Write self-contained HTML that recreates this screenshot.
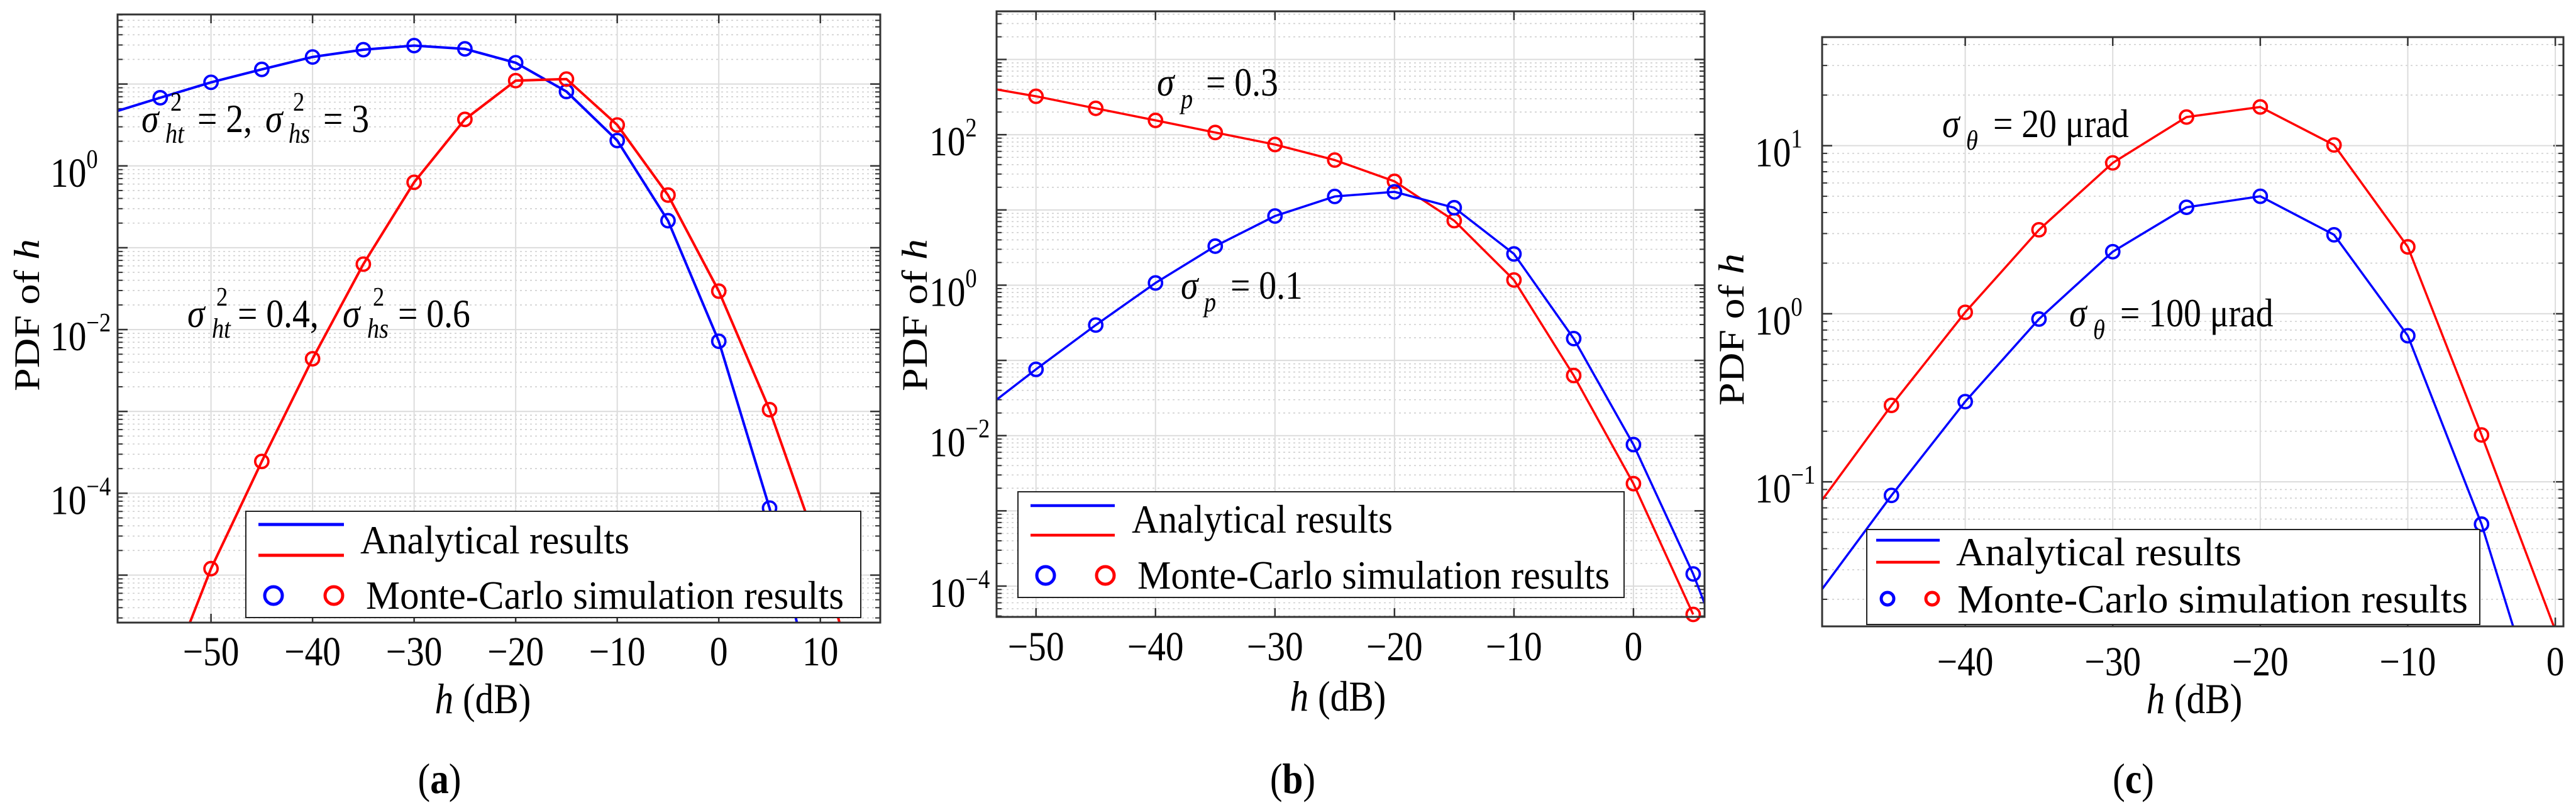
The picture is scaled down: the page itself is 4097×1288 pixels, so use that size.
<!DOCTYPE html>
<html><head><meta charset="utf-8">
<style>
html,body{margin:0;padding:0;background:#fff;}
svg{display:block;font-family:"Liberation Serif","DejaVu Serif",serif;}
</style></head>
<body>
<svg id="fig" width="4097" height="1288" viewBox="0 0 4097 1288" xmlns="http://www.w3.org/2000/svg"></svg>
<script>
// ---------- Panel (a) data ----------
const aMarkX = [-55,-50,-45,-40,-35,-30,-25,-20,-15,-10,-5,0,5];
const aBlueMark = [6.8,10.5,15.1,21.4,26.3,29.5,26.9,18.2,8.1,2.04,0.214,0.0072,6.6e-5];
const aBlueLineX = [-59.2,-55,-50,-45,-40,-35,-30,-25,-20,-15,-10,-5,0,5,7.7];
const aBlueLine = [4.7,6.8,10.5,15.1,21.4,26.3,29.5,26.9,18.2,8.1,2.04,0.214,0.0072,6.6e-5,2.6e-6];
const aRedMarkX = [-50,-45,-40,-35,-30,-25,-20,-15,-10,-5,0,5,10];
const aRedMark = [1.2e-5,2.45e-4,4.4e-3,0.063,0.63,3.7,11,11.5,3.16,0.44,0.0295,1.05e-3,1.8e-5];
const aRedLineX = [-52.1,-50,-45,-40,-35,-30,-25,-20,-15,-10,-5,0,5,10,11.9];
const aRedLine = [2.6e-6,1.2e-5,2.45e-4,4.4e-3,0.063,0.63,3.7,11,11.5,3.16,0.44,0.0295,1.05e-3,1.8e-5,2.6e-6];
const aXTicks = [-50,-40,-30,-20,-10,0,10];
const aYTickExp = [0,-2,-4];

// ---------- Panel (b) data ----------
const bMarkX = [-50,-45,-40,-35,-30,-25,-20,-15,-10,-5,0,5];
const bRedMark = [324,224,155,107,74,46,24,7.2,1.17,0.063,2.3e-3,4.2e-5];
const bBlueMark = [0.076,0.295,1.07,3.3,8.3,15.1,17.4,10.7,2.6,0.195,7.6e-3,1.45e-4];
const bRedLineX = [-53.3,-50,-45,-40,-35,-30,-25,-20,-15,-10,-5,0,5];
const bRedLine = [400,324,224,155,107,74,46,24,7.2,1.17,0.063,2.3e-3,4.2e-5];
const bBlueLineX = [-53.3,-50,-45,-40,-35,-30,-25,-20,-15,-10,-5,0,5,5.95];
const bBlueLine = [0.030,0.076,0.295,1.07,3.3,8.3,15.1,17.4,10.7,2.6,0.195,7.6e-3,1.45e-4,5.9e-5];
const bXTicks = [-50,-40,-30,-20,-10,0];
const bYTickExp = [2,0,-2,-4];

// ---------- Panel (c) data ----------
const cMarkX = [-45,-40,-35,-30,-25,-20,-15,-10,-5];
const cRedMark = [0.285,1.02,3.16,7.9,14.8,17,10.1,2.5,0.19];
const cBlueMark = [0.083,0.30,0.93,2.34,4.3,5.0,2.95,0.74,0.056];
const cRedLineX = [-49.7,-45,-40,-35,-30,-25,-20,-15,-10,-5,-0.1];
const cRedLine = [0.078,0.285,1.02,3.16,7.9,14.8,17,10.1,2.5,0.19,0.0138];
const cBlueLineX = [-49.7,-45,-40,-35,-30,-25,-20,-15,-10,-5,-2.86];
const cBlueLine = [0.023,0.083,0.30,0.93,2.34,4.3,5.0,2.95,0.74,0.056,0.0138];
const cXTicks = [-40,-30,-20,-10,0];
const cYTickExp = [1,0,-1];

const NS = "http://www.w3.org/2000/svg";
const svg = document.getElementById('fig');
const SX = 0.87;
function mk(tag, attrs, parent, text){
  const e = document.createElementNS(NS, tag);
  for (const k in attrs) e.setAttribute(k, attrs[k]);
  if (text !== undefined) e.textContent = text;
  (parent||svg).appendChild(e);
  return e;
}
function squash(t){
  const x = parseFloat(t.getAttribute('x'));
  t.setAttribute('transform','translate('+x+' 0) scale('+SX+' 1) translate('+(-x)+' 0)');
}

function panel(cfg){
  const g = mk('g', {});
  
  
  const L=cfg.L,R=cfg.R,T=cfg.T,B=cfg.B;
  const xs = v => L + (v - cfg.x0)/(cfg.x1 - cfg.x0)*(R-L);
  const ys = v => T + (cfg.ly1 - Math.log10(v))/(cfg.ly1 - cfg.ly0)*(B-T);
  const grid = mk('g', {}, g);
  
  
  for (let d=Math.floor(cfg.ly0); d<=Math.ceil(cfg.ly1); d++){
    for (let m=1;m<=9;m++){
      const v = m*Math.pow(10,d);
      const lv = Math.log10(v);
      if (lv<cfg.ly0 || lv>cfg.ly1) continue;
      const y = ys(v);
      if (m===1){
        mk('line',{x1:L,x2:R,y1:y,y2:y,stroke:'#dcdcdc','stroke-width':2},grid);
        mk('line',{x1:L,x2:L+16,y1:y,y2:y,stroke:'#333','stroke-width':2.5},grid);
        mk('line',{x1:R-16,x2:R,y1:y,y2:y,stroke:'#333','stroke-width':2.5},grid);
      } else {
        mk('line',{x1:L,x2:R,y1:y,y2:y,stroke:'#cfcfcf','stroke-width':1.6,'stroke-dasharray':'3 5'},grid);
        mk('line',{x1:L,x2:L+8,y1:y,y2:y,stroke:'#333','stroke-width':2},grid);
        mk('line',{x1:R-8,x2:R,y1:y,y2:y,stroke:'#333','stroke-width':2},grid);
      }
    }
  }
  cfg.xTicks.forEach(t=>{
    const x = xs(t);
    mk('line',{x1:x,x2:x,y1:T,y2:B,stroke:'#dcdcdc','stroke-width':2},grid);
    mk('line',{x1:x,x2:x,y1:B-14,y2:B,stroke:'#333','stroke-width':2.5},grid);
    mk('line',{x1:x,x2:x,y1:T,y2:T+14,stroke:'#333','stroke-width':2.5},grid);
    const tl = mk('text',{x:x,y:cfg.xTickY,'text-anchor':'middle','font-size':66,fill:'#000'},g,(t<0?'\u2212'+(-t):''+t));
    
    
    squash(tl);
  });
  cfg.yTickExp.forEach(e=>{
    const y = ys(Math.pow(10,e));
    const tl = mk('text',{x:L-107,y:y+33,'font-size':66,fill:'#000'},g);
    
    
    mk('tspan',{},tl,'10');
    mk('tspan',{dy:-30,'font-size':42},tl,(e<0?'\u2212'+(-e):''+e));
    squash(tl);
  });
  const cid = 'clip-'+cfg.name;
  const cp = mk('clipPath',{id:cid},g);
  mk('rect',{x:L,y:T,width:R-L,height:B-T},cp);
  const sg = mk('g',{'clip-path':'url(#'+cid+')'},g);
  cfg.series.forEach(s=>{
    const pts = s.lx.map((x,i)=>xs(x).toFixed(1)+','+ys(s.ly[i]).toFixed(1)).join(' ');
    const pl = mk('polyline',{points:pts,fill:'none',stroke:s.color,'stroke-width':cfg.lw,'stroke-linejoin':'round'},sg);
    
    
  });
  cfg.series.forEach(s=>{
    s.mx.forEach((x,i)=>{
      const c = mk('circle',{cx:xs(x),cy:ys(s.my[i]),r:10.5,fill:'none',stroke:s.color,'stroke-width':3.8},g);
      
      
    });
  });
  const box = mk('rect',{x:L,y:T,width:R-L,height:B-T,fill:'none',stroke:'#333','stroke-width':3},g);
  
  
  const lg = cfg.leg;
  const lgg = mk('g',{},g);
  
  
  mk('rect',{x:lg.x,y:lg.y,width:lg.w,height:lg.h,fill:'#fff',stroke:'#222','stroke-width':2},lgg);
  mk('line',{x1:lg.lx1,x2:lg.lx2,y1:lg.l1,y2:lg.l1,stroke:'#0000ff','stroke-width':cfg.lw+1},lgg);
  mk('line',{x1:lg.lx1,x2:lg.lx2,y1:lg.l2,y2:lg.l2,stroke:'#ff0000','stroke-width':cfg.lw+1},lgg);
  mk('text',{x:lg.tx,y:lg.t1y,'font-size':64,textLength:lg.t1w,lengthAdjust:'spacingAndGlyphs'},lgg,'Analytical results');
  mk('circle',{cx:lg.mb,cy:lg.my,r:lg.mr,fill:'none',stroke:'#0000ff','stroke-width':5},lgg);
  mk('circle',{cx:lg.mrx,cy:lg.my,r:lg.mr,fill:'none',stroke:'#ff0000','stroke-width':5},lgg);
  mk('text',{x:lg.tx2,y:lg.t2y,'font-size':64,textLength:lg.t2w,lengthAdjust:'spacingAndGlyphs'},lgg,'Monte-Carlo simulation results');
  const yl = mk('text',{x:0,y:0,transform:'translate('+cfg.yl[0]+','+cfg.yl[1]+') rotate(-90) scale(1 '+SX+')','text-anchor':'middle','font-size':66},g);
  
  
  mk('tspan',{},yl,'PDF of ');
  mk('tspan',{'font-style':'italic'},yl,'h');
  const xl = mk('text',{x:cfg.xl[0],y:cfg.xl[1],'text-anchor':'middle','font-size':68},g);
  
  
  mk('tspan',{'font-style':'italic'},xl,'h');
  mk('tspan',{},xl,' (dB)');
  squash(xl);
  const cap = mk('text',{x:cfg.cap[0],y:1261,'text-anchor':'middle','font-size':68},g);
  
  
  mk('tspan',{},cap,'(');
  mk('tspan',{'font-weight':'bold'},cap,cfg.cap[1]);
  mk('tspan',{},cap,')');
  squash(cap);
  return g;
}

panel({name:'panel-a',L:187,R:1400,T:23,B:990,x0:-59.2,x1:15.9,ly0:-5.58,ly1:1.85,lw:4,
  xTicks:aXTicks,yTickExp:aYTickExp,xTickY:1058,
  series:[{key:'blue',color:'#0000ff',lx:aBlueLineX,ly:aBlueLine,mx:aMarkX,my:aBlueMark},
          {key:'red',color:'#ff0000',lx:aRedLineX,ly:aRedLine,mx:aRedMarkX,my:aRedMark}],
  leg:{x:391,y:813,w:978,h:169,lx1:411,lx2:547,l1:834,l2:883,tx:573,t1y:880,t1w:428,mb:435,mrx:531,my:947,mr:14,tx2:582,t2y:968,t2w:760},
  yl:[62,501],xl:[768,1134],cap:[699,'a']});

panel({name:'panel-b',L:1585,R:2711,T:18,B:981,x0:-53.3,x1:5.95,ly0:-4.41,ly1:3.64,lw:3.5,
  xTicks:bXTicks,yTickExp:bYTickExp,xTickY:1050,
  series:[{key:'red',color:'#ff0000',lx:bRedLineX,ly:bRedLine,mx:bMarkX,my:bRedMark},
          {key:'blue',color:'#0000ff',lx:bBlueLineX,ly:bBlueLine,mx:bMarkX,my:bBlueMark}],
  leg:{x:1619,y:782,w:964,h:168,lx1:1639,lx2:1773,l1:804,l2:851,tx:1800,t1y:847,t1w:415,mb:1663,mrx:1758,my:915,mr:14,tx2:1809,t2y:936,t2w:751},
  yl:[1474,501],xl:[2128,1130],cap:[2056,'b']});

panel({name:'panel-c',L:2898,R:4077,T:59,B:996,x0:-49.7,x1:0.55,ly0:-1.86,ly1:1.646,lw:3.5,
  xTicks:cXTicks,yTickExp:cYTickExp,xTickY:1074,
  series:[{key:'red',color:'#ff0000',lx:cRedLineX,ly:cRedLine,mx:cMarkX,my:cRedMark},
          {key:'blue',color:'#0000ff',lx:cBlueLineX,ly:cBlueLine,mx:cMarkX,my:cBlueMark}],
  leg:{x:2969,y:842,w:975,h:151,lx1:2984,lx2:3085,l1:859,l2:894,tx:3111,t1y:899,t1w:454,mb:3002,mrx:3073,my:952,mr:10,tx2:3113,t2y:974,t2w:812},
  yl:[2773,524],xl:[3490,1134],cap:[3393,'c']});

// ---------- annotations ----------
function piece(x,y,txt,size,italic,name){
  const t = mk('text',{x:x,y:y,'font-size':size,'font-style':italic?'italic':'normal'},svg,txt);
  
  
  squash(t);
  return t;
}
piece(225,210,'\u03c3',64,true,'annotation-sigma');
piece(271,176,'2',42,false,'annotation-sup');
piece(263,227,'ht',44,true,'annotation-sub');
piece(314,210,'= 2,',64,false,'annotation-value');
piece(422,210,'\u03c3',64,true,'annotation-sigma');
piece(466,176,'2',42,false,'annotation-sup');
piece(459,227,'hs',44,true,'annotation-sub');
piece(514,210,'= 3',64,false,'annotation-value');
piece(298,520,'\u03c3',64,true,'annotation-sigma');
piece(344,486,'2',42,false,'annotation-sup');
piece(337,537,'ht',44,true,'annotation-sub');
piece(378,520,'= 0.4,',64,false,'annotation-value');
piece(545,520,'\u03c3',64,true,'annotation-sigma');
piece(593,486,'2',42,false,'annotation-sup');
piece(584,537,'hs',44,true,'annotation-sub');
piece(633,520,'= 0.6',64,false,'annotation-value');
piece(1840,152,'\u03c3',64,true,'annotation-sigma');
piece(1878,172,'p',44,true,'annotation-sub');
piece(1918,152,'= 0.3',64,false,'annotation-value');
piece(1878,475,'\u03c3',64,true,'annotation-sigma');
piece(1915,495,'p',44,true,'annotation-sub');
piece(1957,475,'= 0.1',64,false,'annotation-value');
piece(3089,218,'\u03c3',64,true,'annotation-sigma');
piece(3127,238,'\u03b8',44,true,'annotation-sub');
piece(3170,218,'= 20 \u03bcrad',64,false,'annotation-value');
piece(3291,519,'\u03c3',64,true,'annotation-sigma');
piece(3329,539,'\u03b8',44,true,'annotation-sub');
piece(3372,519,'= 100 \u03bcrad',64,false,'annotation-value');
</script>
</body></html>
